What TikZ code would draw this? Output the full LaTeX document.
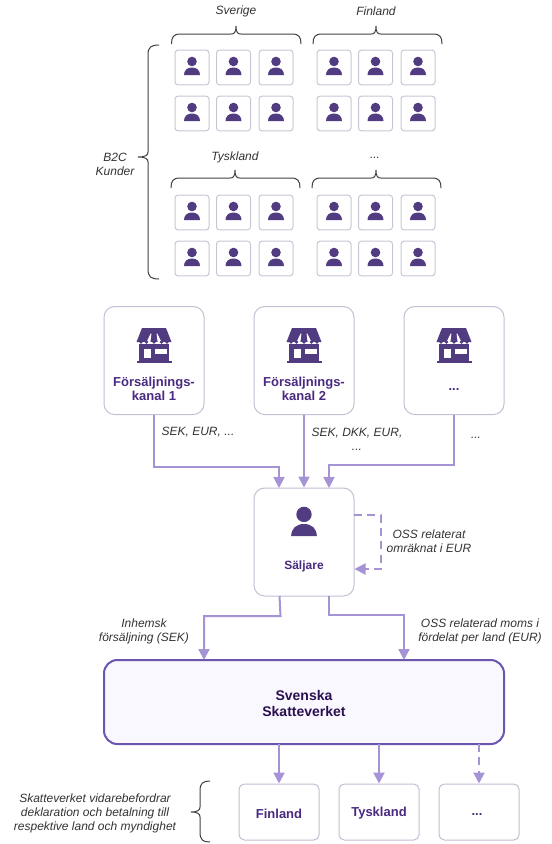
\documentclass[tikz,border=0pt]{standalone}
\usepackage{fontspec}
\setmainfont{Liberation Sans}
\usetikzlibrary{arrows.meta}
\definecolor{tileb}{HTML}{C8C5D5}
\definecolor{boxb}{HTML}{C4BFD3}
\definecolor{icon}{HTML}{513C82}
\definecolor{ttl}{HTML}{4A2A80}
\definecolor{flow}{HTML}{A593D6}
\definecolor{mainb}{HTML}{6B55AE}
\definecolor{mainf}{HTML}{FAF8FF}
\definecolor{maint}{HTML}{2A1050}
\definecolor{lbl}{HTML}{333333}
\tikzset{
  tile/.style={draw=tileb,line width=.75pt,rounded corners=2.2pt,minimum width=25.5pt,minimum height=26pt,inner sep=0pt,fill=white},
  bigbox/.style={draw=boxb,line width=.75pt,rounded corners=8pt,minimum width=75pt,minimum height=81pt,inner sep=0pt,fill=white},
  smallbox/.style={draw=boxb,line width=.75pt,rounded corners=4pt,minimum width=60pt,minimum height=42pt,inner sep=0pt,fill=white},
  mainbox/.style={draw=mainb,line width=1.5pt,rounded corners=10pt,minimum width=300pt,minimum height=63pt,fill=mainf},
  lab/.style={font=\fontsize{9}{10.5}\selectfont\itshape,text=lbl,align=center,inner sep=0pt},
  ttext/.style={font=\fontsize{9.75}{10.5}\selectfont\bfseries,text=ttl,align=center,inner sep=0pt},
  flowline/.style={draw=flow,line width=1.5pt,-{Triangle[length=8.25pt,width=8.25pt]}},
  flowdash/.style={flowline,dash pattern=on 6pt off 4pt},
  bracel/.style={draw=black!75,line width=.75pt},
}
\newcommand{\personat}[3]{% x y scale
  \begin{scope}[shift={(#1,#2)},x=#3*0.75pt,y=-#3*0.75pt]
    \fill[icon] (0,-6) circle[radius=4.8];
    \fill[icon] (-8,7.5) .. controls (-8,3) and (-5,0) .. (0,0) .. controls (5,0) and (8,3) .. (8,7.5) -- cycle;
  \end{scope}}
\newcommand{\tileat}[3]{% name x y
  \node[tile] (#1) at (#2,#3) {};
  \personat{#2}{#3}{1}}
\newcommand{\tilegroup}[3]{% prefix first-centre-x top-centre-y
  \foreach \c/\dx in {a/0,b/41.5,c/84}{
    \pgfmathsetmacro{\xx}{#2+\dx}
    \tileat{#1\c1}{\xx}{#3}
    \pgfmathsetmacro{\yy}{#3+46}
    \tileat{#1\c2}{\xx}{\yy}
  }}
\newcommand{\storeat}[2]{%
  \begin{scope}[shift={(#1,#2)}]
    \fill[icon] (-12,-17.5) -- (12,-17.5) -- (17.5,-3.5) -- (-17.5,-3.5) -- cycle;
    \fill[white] (-3.4,-12) -- (-2.6,-12) -- (-3.6,-3.4) -- (-7.4,-3.4) -- cycle;
    \fill[white] (3.4,-12) -- (2.6,-12) -- (3.6,-3.4) -- (7.4,-3.4) -- cycle;
    \fill[icon] (-15,-2) rectangle (15,16);
    \fill[white] (-15.5,-3.5) rectangle (15.5,-1.8);
    \foreach \sx in {-13,-7.5,0,7.5,13}{\fill[icon] (\sx,-3.6) circle[radius=1.9];}
    \fill[white] (-10,3) rectangle (-3.3,12.8);
    \fill[white] (1,3) rectangle (12.7,8);
    \fill[icon] (-17.5,15.3) rectangle (17.5,17.8);
  \end{scope}}
\newcommand{\hbr}[4]{% x1 x2 xm ybottom
  \draw[bracel] (#1,#4) .. controls (#1,{#4-7}) and ({#1+2},{#4-10}) .. ({#1+9},{#4-10}) -- ({#3-5},{#4-10}) .. controls ({#3-2},{#4-10}) and (#3,{#4-11}) .. (#3,{#4-18}) .. controls (#3,{#4-11}) and ({#3+2},{#4-10}) .. ({#3+5},{#4-10}) -- ({#2-9},{#4-10}) .. controls ({#2-2},{#4-10}) and (#2,{#4-7}) .. (#2,#4);}
\newcommand{\vbr}[6]{% xtip xmid xend y1 y2 ym
  \draw[bracel] (#3,#4) .. controls ({#2+3},#4) and (#2,{#4+2}) .. (#2,{#4+10}) -- (#2,{#6-5}) .. controls (#2,{#6-2}) and ({#2-2},#6) .. (#1,#6) .. controls ({#2-2},#6) and (#2,{#6+2}) .. (#2,{#6+5}) -- (#2,{#5-10}) .. controls (#2,{#5-2}) and ({#2+3},#5) .. (#3,#5);}
\begin{document}
\begin{tikzpicture}[x=0.75pt,y=-0.75pt]
\useasboundingbox (0,0) rectangle (551,844);
\tilegroup{se}{192}{67.5}
\tilegroup{fi}{334}{67.5}
\tilegroup{de}{192}{212.5}
\tilegroup{xx}{334}{212.5}
\hbr{171.5}{301}{236}{44}
\hbr{313}{442}{376}{44}
\hbr{171}{300}{235}{188}
\hbr{312}{441}{376}{188}
\vbr{138}{148}{159}{45}{279}{157}
\vbr{191}{200}{210}{781}{842}{812}
\node[lab] (lse) at (236,11) {Sverige};
\node[lab] (lfi) at (376,11) {Finland};
\node[lab] (lde) at (235,157) {Tyskland};
\node[lab] (lxx) at (375,158) {...};
\node[lab] (lb2c) at (115,164) {B2C\\Kunder};
\node[bigbox] (k1) at (154,360.5) {};
\node[bigbox] (k2) at (304,360.5) {};
\node[bigbox] (k3) at (454,360.5) {};
\storeat{154}{345.5}
\storeat{304}{345.5}
\storeat{454}{345.5}
\node[ttext] (t1) at (154,388.5) {Försäljnings-\\kanal 1};
\node[ttext] (t2) at (304,388.5) {Försäljnings-\\kanal 2};
\node[ttext] (t3) at (454,390) {...};
\node[bigbox] (s) at (304,542) {};
\personat{304}{524}{1.6}
\node[ttext,font=\fontsize{9}{10.5}\selectfont\bfseries] (ts) at (304,566) {Säljare};
\node[mainbox] (m) at (304,702) {};
\node[ttext,text=maint,font=\fontsize{10.5}{12}\selectfont\bfseries] (tm) at (304,703) {Svenska\\Skatteverket};
\node[smallbox] (c1) at (279,812) {};
\node[smallbox] (c2) at (379,812) {};
\node[smallbox] (c3) at (479,812) {};
\node[ttext] (tc1) at (279,813.5) {Finland};
\node[ttext] (tc2) at (379,813) {Tyskland};
\node[ttext] (tc3) at (477,814.5) {...};
\coordinate (sin1) at (279,488);
\coordinate (sin3) at (329,488);
\coordinate (so1) at (279.5,596);
\coordinate (so2) at (329,596);
\coordinate (mi1) at (204,660);
\coordinate (mi2) at (404,660);
\coordinate (dout) at (354,515);
\coordinate (din) at (354.5,569);
\coordinate (mo1) at (279,744);
\coordinate (mo2) at (379,744);
\coordinate (mo3) at (479,744);
\draw[flowline] (k1.south) -- (154,467) -- (279,467) -- (sin1);
\draw[flowline] (k2.south) -- (s.north);
\draw[flowline] (k3.south) -- (454,465) -- (329,465) -- (sin3);
\draw[flowdash] (dout) -- (381,515) -- (381,569) -- (din);
\draw[flowline] (so1) -- (280.5,616) -- (204,616) -- (mi1);
\draw[flowline] (so2) -- (329,614.5) -- (404,614.5) -- (mi2);
\draw[flowline] (mo1) -- (c1.north);
\draw[flowline] (mo2) -- (c2.north);
\draw[flowdash] (mo3) -- (c3.north);
\node[lab] (l1) at (198,432) {SEK, EUR, ...};
\node[lab] (l2) at (357,439) {SEK, DKK, EUR,\\...};
\node[lab] (l3) at (476,438) {...};
\node[lab] (l4) at (429,541) {OSS relaterat\\omräknat i EUR};
\node[lab] (l5) at (144,631) {Inhemsk\\försäljning (SEK)};
\node[lab] (l6) at (480,631) {OSS relaterad moms i\\fördelat per land (EUR)};
\node[lab] (l7) at (95,813) {Skatteverket vidarebefordrar\\deklaration och betalning till\\respektive land och myndighet};
\end{tikzpicture}
\end{document}
